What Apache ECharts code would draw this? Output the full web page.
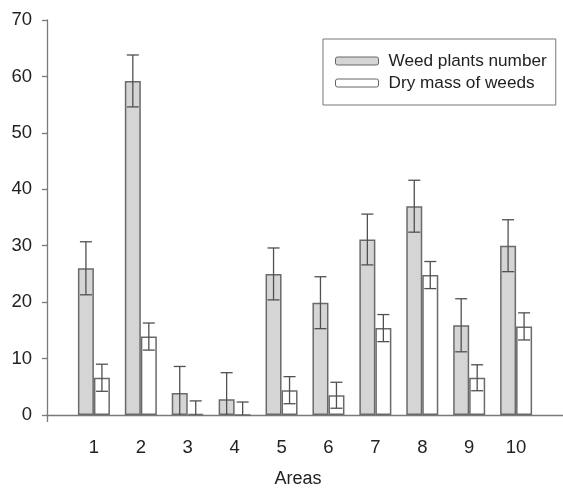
<!DOCTYPE html>
<html>
<head>
<meta charset="utf-8">
<script src="https://cdn.jsdelivr.net/npm/echarts@6/dist/echarts.min.js"></script>
<style>html,body{margin:0;padding:0;background:#fff}#c{width:563px;height:488px}</style>
</head>
<body>
<div id="c"></div>
<script>
const categories = [1, 2, 3, 4, 5, 6, 7, 8, 9, 10];
const weedPlants = [26, 59.2, 3.9, 2.8, 25, 19.9, 31.1, 37, 15.9, 30];
const weedPlantsErr = [4.7, 4.6, 4.7, 4.7, 4.6, 4.6, 4.5, 4.6, 4.7, 4.6];
const dryMass = [6.6, 13.9, 0.2, 0, 4.4, 3.5, 15.4, 24.8, 6.6, 15.7];
const dryMassErr = [2.4, 2.4, 2.3, 2.3, 2.4, 2.3, 2.4, 2.4, 2.3, 2.4];
const yTicks = [0, 10, 20, 30, 40, 50, 60, 70];

const FONT = '"Liberation Sans", Arial, sans-serif';
const BAR_W = 16;

function errData(vals, errs) {
  return categories.map((c, i) => [c, vals[i] - errs[i], vals[i] + errs[i]]);
}
function errRender(offset) {
  return function (params, api) {
    const x = api.value(0), lo = api.value(1), hi = api.value(2);
    const pHi = api.coord([x, hi]);
    const pLo = api.coord([x, Math.max(lo, 0)]);
    const cx = pHi[0] + offset;
    const half = 6;
    const style = { stroke: '#505050', lineWidth: 1.3 };
    const children = [
      { type: 'line', shape: { x1: cx, y1: pHi[1], x2: cx, y2: pLo[1] }, style },
      { type: 'line', shape: { x1: cx - half, y1: pHi[1], x2: cx + half, y2: pHi[1] }, style }
    ];
    if (lo > 0) {
      children.push({ type: 'line', shape: { x1: cx - half, y1: pLo[1], x2: cx + half, y2: pLo[1] }, style });
    }
    return { type: 'group', children };
  };
}

const el = document.getElementById('c');
const chart = echarts.init(el, null, { renderer: 'canvas' });
chart.setOption({
  animation: false,
  backgroundColor: '#fff',
  textStyle: { fontFamily: FONT },
  grid: { left: 47, right: 0, top: 20, bottom: 73, containLabel: false, outerBoundsMode: 'none' },
  legend: {
    orient: 'vertical',
    left: 323, top: 39,
    padding: [13, 9, 13, 12],
    itemWidth: 43, itemHeight: 8, itemGap: 4,
    borderColor: '#777', borderWidth: 1,
    textStyle: { fontFamily: FONT, fontSize: 17.2, lineHeight: 18, color: '#222', padding: [0, 0, 0, 5] },
    data: [
      { name: 'Weed plants number', itemStyle: { color: '#d4d5d4', borderColor: '#666', borderWidth: 1 } },
      { name: 'Dry mass of weeds', itemStyle: { color: '#fff', borderColor: '#666', borderWidth: 1 } }
    ]
  },
  xAxis: {
    type: 'value', min: 0, max: 11, interval: 1,
    name: 'Areas', nameLocation: 'middle', nameGap: 55,
    nameTextStyle: { fontFamily: FONT, fontSize: 18, color: '#222', padding: [0, 14, 0, 0] },
    axisLine: { show: true, lineStyle: { color: '#7a7a7a', width: 1.3 } },
    axisTick: { show: true, customValues: [0], length: 7, inside: false, lineStyle: { color: '#7a7a7a', width: 1.3 } },
    axisLabel: { customValues: categories, margin: 23, fontFamily: FONT, fontSize: 18.5, color: '#222' },
    splitLine: { show: false }
  },
  yAxis: {
    type: 'value', min: 0, max: 70, interval: 10,
    axisLine: { show: true, lineStyle: { color: '#7a7a7a', width: 1.3 } },
    axisTick: { show: true, length: 5, lineStyle: { color: '#7a7a7a', width: 1.3 } },
    axisLabel: { margin: 15, fontFamily: FONT, fontSize: 18.5, color: '#222', customValues: yTicks },
    splitLine: { show: false }
  },
  series: [
    {
      name: 'Weed plants number', type: 'bar', barWidth: BAR_W, barGap: '0%',
      itemStyle: { color: '#d4d5d4', borderColor: '#6a6a6a', borderWidth: 1.5 },
      data: categories.map((c, i) => [c, weedPlants[i]])
    },
    {
      name: 'Dry mass of weeds', type: 'bar', barWidth: BAR_W, barGap: '0%',
      itemStyle: { color: '#fff', borderColor: '#6a6a6a', borderWidth: 1.5 },
      data: categories.map((c, i) => [c, dryMass[i]])
    },
    {
      type: 'custom', renderItem: errRender(-BAR_W / 2), z: 5,
      encode: { x: 0, y: [1, 2] },
      data: errData(weedPlants, weedPlantsErr)
    },
    {
      type: 'custom', renderItem: errRender(BAR_W / 2), z: 5,
      encode: { x: 0, y: [1, 2] },
      data: errData(dryMass, dryMassErr)
    }
  ]
});
</script>
</body>
</html>
